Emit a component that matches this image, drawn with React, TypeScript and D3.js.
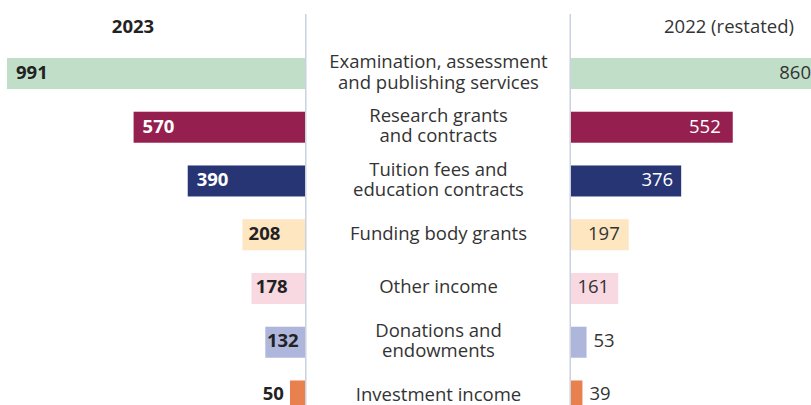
import React from "react";
import * as d3 from "d3";

const categories = [
  "Examination, assessment|and publishing services",
  "Research grants|and contracts",
  "Tuition fees and|education contracts",
  "Funding body grants",
  "Other income",
  "Donations and|endowments",
  "Investment income",
];
const values2023 = [991, 570, 390, 208, 178, 132, 50];
const values2022 = [860, 552, 376, 197, 161, 53, 39];
const colors = ["#c1dfc8", "#951f4f", "#283574", "#fde6c0", "#f8d8e1", "#aeb6dc", "#e9814f"];
const darkBars = [false, true, true, false, false, false, false];
const headers = ["2023", "2022 (restated)"];

const W = 811;
const H = 405;
const FONT = "'Open Sans', 'Noto Sans', sans-serif";
const FS = 18.5;

let ctx: CanvasRenderingContext2D | null = null;
function textWidth(t: string, weight: string) {
  if (!ctx) ctx = document.createElement("canvas").getContext("2d");
  if (!ctx) return t.length * 10.5;
  ctx.font = `${weight} ${FS}px 'Open Sans'`;
  return ctx.measureText(t).width;
}

export default function App() {
  const leftAxis = 305;
  const rightAxis = 571;
  const y = d3
    .scaleBand<string>()
    .domain(categories)
    .range([46.6, 46.6 + 7 * 53.75])
    .paddingInner(0.423)
    .paddingOuter(0.2115);
  const xL = d3.scaleLinear().domain([0, 991]).range([0, 298]);
  const xR = d3.scaleLinear().domain([0, 860]).range([0, 252]);
  const centerX = (leftAxis + rightAxis) / 2 + 0.5;
  const LH = 20.5;

  return (
    <div style={{ position: "fixed", left: 0, top: 0, width: W, height: H, background: "#fff" }}>
      <svg width={W} height={H} style={{ display: "block", fontFamily: FONT }}>
        <text x={133} y={33} textAnchor="middle" fontSize={FS} fontWeight="bold" fill="#222">
          {headers[0]}
        </text>
        <text x={729} y={33} textAnchor="middle" fontSize={FS} fill="#333">
          {headers[1]}
        </text>
        {categories.map((c, i) => {
          const y0 = y(c)!;
          const bw = y.bandwidth();
          const cy = y0 + bw / 2;
          const wl = xL(values2023[i]);
          const wr = xR(values2022[i]);
          const lt = String(values2023[i]);
          const rt = String(values2022[i]);
          const ltw = textWidth(lt, "bold");
          const rtw = textWidth(rt, "normal");
          const leftStart = leftAxis - wl;
          let lx: number;
          let lanchor: "start" | "end" = "start";
          if (wl >= ltw + 2) {
            const pad = Math.min(9, Math.max(1, (wl - ltw) * 0.2));
            lx = leftStart + pad;
          } else {
            lx = leftStart - 6;
            lanchor = "end";
          }
          let rx: number;
          let ranchor: "start" | "end" = "end";
          if (wr >= rtw + 12) {
            rx = rightAxis + wr - (wr > 150 ? 12 : wr > 80 ? 8 : 9);
          } else {
            rx = rightAxis + wr + 7;
            ranchor = "start";
          }
          const lines = c.split("|");
          const dark = darkBars[i];
          const firstY = cy + 5 - ((lines.length - 1) / 2) * LH;
          return (
            <g key={c}>
              <rect x={leftStart} y={y0} width={wl} height={bw} fill={colors[i]} />
              <rect x={rightAxis} y={y0} width={wr} height={bw} fill={colors[i]} />
              <text
                x={lx}
                y={cy + 6 - i * 0.3}
                textAnchor={lanchor}
                fontSize={FS}
                fontWeight="bold"
                fill={dark && lanchor === "start" ? "#fff" : "#222"}
              >
                {lt}
              </text>
              <text
                x={rx}
                y={cy + 6 - i * 0.3}
                textAnchor={ranchor}
                fontSize={FS}
                fill={dark && ranchor === "end" ? "#fff" : "#333"}
              >
                {rt}
              </text>
              <text x={centerX} y={firstY} textAnchor="middle" fontSize={FS} fill="#333">
                {lines.map((ln, j) => (
                  <tspan key={j} x={centerX} dy={j === 0 ? 0 : LH}>
                    {ln}
                  </tspan>
                ))}
              </text>
            </g>
          );
        })}
        <line x1={leftAxis + 0.75} x2={leftAxis + 0.75} y1={14} y2={H} stroke="#c9d2de" strokeWidth={1.5} />
        <line x1={rightAxis - 0.75} x2={rightAxis - 0.75} y1={14} y2={H} stroke="#c9d2de" strokeWidth={1.5} />
      </svg>
    </div>
  );
}
